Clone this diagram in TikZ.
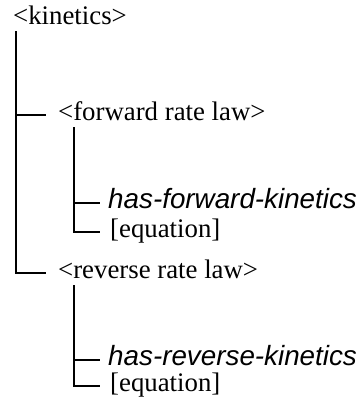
\documentclass[tikz,border=0pt]{standalone}
\usepackage{fontspec}
\setmainfont{Liberation Serif}
\newfontfamily\relfont{Liberation Sans}
\usetikzlibrary{positioning}

\begin{document}
\begin{tikzpicture}[
    x=1pt, y=-1pt,
    elem/.style={anchor=west, inner sep=0pt, text height=18pt, text depth=6.5pt, font=\fontsize{26.8}{30}\selectfont},
    rel/.style={elem, font=\relfont\itshape\fontsize{27.8}{32}\selectfont},
    branch/.style={line width=2.8pt, shorten >=#1},
    branch/.default=11pt
]
    \useasboundingbox (0,0) rectangle (363,415);

    % tree entries
    \node[elem] (kinetics) at (13,19) {<kinetics>};
    \node[elem] (fwd) at (58,115) {<forward rate law>};
    \node[rel] (fwdrel) at (108,203) {has-forward-kinetics};
    \node[elem] (fwdeq) at (110,232) {[equation]};
    \node[elem] (rev) at (58,273) {<reverse rate law>};
    \node[rel] (revrel) at (108,360) {has-reverse-kinetics};
    \node[elem] (reveq) at (110,386) {[equation]};

    % branches
    \draw[branch=12pt] ([xshift=3pt]kinetics.south west) |- (fwd.west);
    \draw[branch=12pt] ([xshift=3pt]kinetics.south west) |- (rev.west);
    \draw[branch=8pt] ([xshift=16pt]fwd.south west) |- (fwdrel.west);
    \draw[branch=10pt] ([xshift=16pt]fwd.south west) |- (fwdeq.west);
    \draw[branch=8pt] ([xshift=16pt]rev.south west) |- (revrel.west);
    \draw[branch=10pt] ([xshift=16pt]rev.south west) |- (reveq.west);
\end{tikzpicture}
\end{document}
